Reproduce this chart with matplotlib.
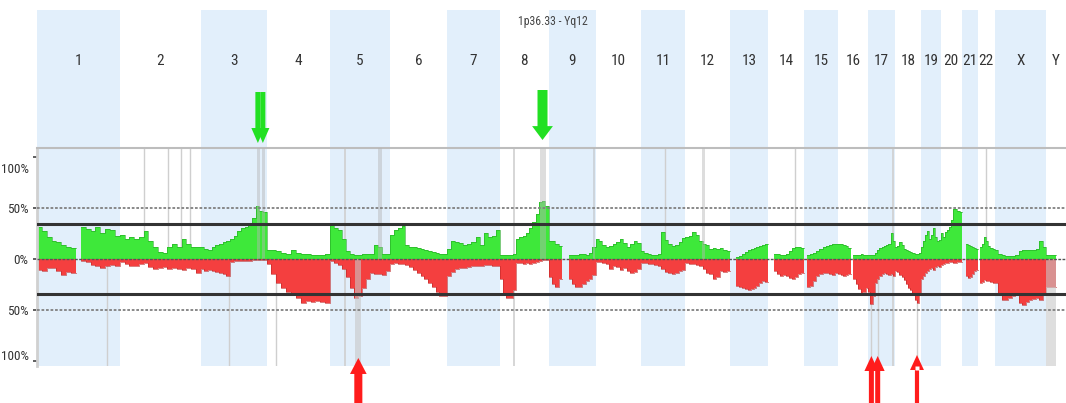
import numpy as np
import matplotlib
matplotlib.use("Agg")
import matplotlib.pyplot as plt
from matplotlib.transforms import blended_transform_factory, IdentityTransform, ScaledTranslation

nan = np.nan

# ---------------------------------------------------------------- data
CHROMS = ["1", "2", "3", "4", "5", "6", "7", "8", "9", "10", "11", "12",
          "13", "14", "15", "16", "17", "18", "19", "20", "21", "22", "X", "Y"]
CHROM_MB = [249.3, 243.2, 198.0, 191.2, 180.9, 171.1, 159.1, 146.4, 141.2, 135.5,
            135.0, 133.9, 115.2, 107.3, 102.5, 90.4, 81.2, 78.1, 59.1, 63.0,
            48.1, 51.3, 155.3, 59.4]

# frequency of gains (%) in equal-width bins along each chromosome
GAIN = [
    [31, 27, 22, 18, 17, 14, 12, 11, nan, 31, 29, 27, 31, 25, 29, 28, 23],
    [24, 20, 22, 20, 22, 27, 18, 12, 7, 6, 12, 15, 12, 20, 15, 12, 12],
    [12, 10, 9, 12, 14, 15, 17, 18, 20, 23, 27, 30, 31, 35, 40, 52, 47, 46],
    [9, 9, 8, 6, 5, 9, 6, 5, 5, 4, 4, 4, 5],
    [33, 30, 28, 20, 8, 5, 4, 4, 5, 5, 5, 14, 12, 5, 5],
    [24, 28, 30, 32, 14, 12, 12, 11, 10, 9, 8, 7, 6, 5, 5],
    [10, 18, 17, 16, 14, 15, 17, 22, 14, 25, 22, 23, 28],
    [4, 4, 4, 4, 5, 20, 22, 23, 25, 30, 36, 44, 56, 57, 52],
    [18, 18, 15, 13, nan, nan, 4, 4, 4, 5, 5, 4, 6, 12],
    [20, 18, 14, 12, 13, 15, 17, 20, 16, 12, 15, 18, 16],
    [8, 6, 5, 4, 4, 5, 26, 19, 15, 13, 14, 17, 21],
    [22, 23, 26, 24, 18, 15, 14, 10, 11, 10, 11, 9, 8],
    [nan, nan, 2, 3, 5, 7, 9, 10, 11, 12, 13, 14, 15],
    [nan, nan, 5, 5, 4, 4, 5, 8, 11, 12, 12, 11],
    [nan, 4, 5, 6, 8, 10, 12, 13, 14, 15, 15],
    [15, 15, 14, 13, 11, nan, 4, 4, 4, 5, 4, 4],
    [4, 4, 4, 6, 9, 11, 12, 13, 14, 15, 25, 18],
    [12, 13, 17, 14, 10, 9, 8, 7, 6, 5, 5, 6],
    [12, 18, 24, 27, 20, 24, 30, 22, 18, 19],
    [25, 22, 26, 28, 31, 38, 49, 49, 47, 46],
    [nan, nan, 15, 14, 13, 12, 11, 10],
    [nan, 12, 15, 22, 18, 13, 11, 10],
    [9, 5, 4, 3, 3, 3, 4, 8, 9, 9, 9, 9, 10, 18, 12],
    [4, 4, 4, nan, nan, nan],
]

# frequency of losses (%) in the same bins
LOSS = [
    [11, 12, 9, 9, 12, 16, 13, 14, nan, 2, 3, 6, 7, 9, 7, 6, 7],
    [3, 5, 7, 7, 5, 4, 8, 10, 9, 8, 10, 9, 10, 11, 9, 10, 14],
    [10, 12, 11, 12, 13, 14, 15, 17, 3, 2, 2, 2, 2, 2, 1, 1, 1, 1],
    [5, 15, 24, 28, 32, 34, 38, 43, 41, 42, 41, 42, 43],
    [2, 4, 6, 10, 18, 28, 38, 36, 28, 20, 14, 15, 15, 16, 12],
    [5, 4, 5, 5, 6, 8, 11, 14, 17, 20, 24, 27, 32, 36, 36],
    [17, 13, 10, 9, 9, 8, 7, 7, 7, 6, 6, 7, 7],
    [20, 33, 38, 38, 30, 4, 4, 5, 4, 5, 4, 3, 2, 1, 1],
    [18, 25, 27, 20, nan, nan, 20, 25, 27, 27, 25, 22, 20, 16],
    [3, 3, 4, 5, 10, 7, 8, 11, 9, 12, 14, 13, 10],
    [4, 4, 5, 5, 6, 7, 10, 13, 14, 15, 14, 12, 11],
    [4, 5, 5, 6, 7, 10, 14, 15, 20, 18, 12, 13, 12],
    [nan, nan, 26, 27, 28, 29, 30, 29, 28, 26, 24, 22, 23],
    [nan, nan, 12, 15, 17, 16, 17, 19, 20, 18, 15, 14],
    [nan, 27, 26, 22, 17, 15, 14, 14, 15, 16, 14],
    [15, 16, 17, 16, 15, nan, 20, 25, 29, 33, 32, 28],
    [32, 44, 36, 24, 20, 17, 15, 14, 15, 16, 15, 17],
    [12, 13, 16, 18, 21, 25, 28, 30, 33, 40, 43, 33],
    [20, 17, 14, 12, 10, 9, 11, 8, 7, 8],
    [6, 5, 4, 4, 3, 3, 4, 4, 3, 3],
    [nan, nan, 17, 19, 18, 15, 12, 11],
    [nan, 24, 23, 21, 22, 22, 23, 24],
    [24, 33, 40, 40, 38, 36, 35, 43, 45, 42, 40, 39, 38, 40, 35],
    [27, 27, 27, nan, nan, nan],
]

Y_TICKS = [100, 50, 0, -50, -100]
Y_TICK_LABELS = ["100%", "50%", "0%", "50%", "100%"]
THRESHOLD = 34          # significance threshold (%)
TITLE = "1p36.33 - Yq12"

# marked loci (chromosome, Mb)
GAIN_LINES = [("2", 72), ("2", 144), ("2", 183), ("2", 210), ("11", 72), ("14", 80), ("22", 25)]
LOSS_LINES = [("1", 210), ("3", 86), ("4", 30), ("17", 10), ("17", 29), ("18", 66)]
FULL_LINES = [("5", 45), ("8", 42), ("17", 75)]
GAIN_BANDS = [("3", 168, 178), ("3", 183, 193), ("5", 145, 157), ("8", 119, 137),
              ("9", 132, 141), ("12", 51, 60)]
LOSS_BANDS = [("5", 75, 94), ("Y", 0, 30)]
GAIN_ARROWS = [("3", 172), ("3", 187), ("8", 128)]
LOSS_ARROWS = [("5", 85), ("17", 10), ("17", 29), ("18", 66)]

# ---------------------------------------------------------------- helpers
offsets = np.concatenate([[0.0], np.cumsum(CHROM_MB)])
GENOME = offsets[-1]


def gpos(ch, mb):
    return offsets[CHROMS.index(ch)] + mb


W, H = 1066, 403
plt.rcParams["font.family"] = ["Roboto Condensed", "Liberation Sans Narrow", "Roboto", "DejaVu Sans"]

GREEN = "#3ee83a"
RED = "#f43f3f"
BAND_BLUE = "#e2effb"
TXT = "#333333"


def box(x0, y0, x1, y1):
    """axes rectangle from pixel corners (origin top-left)"""
    return [x0 / W, 1 - y1 / H, (x1 - x0) / W, (y1 - y0) / H]


fig = plt.figure(figsize=(W / 100, H / 100), dpi=100)

# ---------------------------------------------------------------- chromosome bands
band_ax = fig.add_axes(box(37, 10, 1066, 366))
band_ax.set_xlim(0, GENOME)
band_ax.set_ylim(0, 1)
band_ax.axis("off")
for i in range(0, len(CHROMS), 2):
    band_ax.axvspan(offsets[i], offsets[i + 1], color=BAND_BLUE, lw=0)
for i, name in enumerate(CHROMS):
    band_ax.text((offsets[i] + offsets[i + 1]) / 2, 0.857, name, ha="center", va="center",
                 fontsize=11, color=TXT)
fig.text(553 / W, 1 - 22 / H, TITLE, ha="center", va="center", fontsize=8.5, color="#444444")

# ---------------------------------------------------------------- frequency plot
ax = fig.add_axes(box(37, 148, 1066, 366))
ax.patch.set_alpha(0)
ax.set_xlim(0, GENOME)
YTOP, YBOT = 108.8, -104.9
ax.set_ylim(YBOT, YTOP)

xs, gs, ls = [], [], []
for i, L in enumerate(CHROM_MB):
    g = GAIN[i]
    l = LOSS[i]
    edges = offsets[i] + np.linspace(0, L, len(g) + 1)
    for j in range(len(g)):
        xs += [edges[j], edges[j + 1]]
        gs += [g[j], g[j]]
        ls += [-l[j], -l[j]]
xs = np.array(xs)
gs = np.array(gs, dtype=float)
ls = np.array(ls, dtype=float)

# marker lines behind the profile
for ch, mb in GAIN_LINES:
    ax.vlines(gpos(ch, mb), 0, YTOP, color="#cfcfcf", lw=1, zorder=1)
for ch, mb in LOSS_LINES:
    ax.vlines(gpos(ch, mb), YBOT, 0, color="#cfcfcf", lw=1, zorder=1)
for ch, mb in FULL_LINES:
    ax.vlines(gpos(ch, mb), YBOT, YTOP, color="#cfcfcf", lw=1.2, zorder=1)

ax.fill_between(xs, 0, gs, color=GREEN, lw=0, zorder=2)
ax.fill_between(xs, 0, ls, color=RED, lw=0, zorder=2)
ax.plot(xs, gs, color="#25a825", lw=0.6, alpha=0.7, zorder=2.5)
ax.plot(xs, ls, color="#c02828", lw=0.6, alpha=0.7, zorder=2.5)

# highlighted regions over the profile
for ch, a, b in GAIN_BANDS:
    ax.fill_between([gpos(ch, a), gpos(ch, b)], 0, YTOP, color="#b5b5b5", alpha=0.45, lw=0, zorder=3)
for ch, a, b in LOSS_BANDS:
    ax.fill_between([gpos(ch, a), gpos(ch, b)], YBOT, 0, color="#c8c8c8", alpha=0.6, lw=0, zorder=3)

# reference lines
ax.axhline(0, color="#555555", lw=1.0, ls=(0, (2, 1)), zorder=4)
for v in (50, -50):
    ax.axhline(v, color="#808080", lw=1.3, ls=(0, (1.5, 1)), zorder=4)
for v in (THRESHOLD, -THRESHOLD):
    ax.axhline(v, color="#333333", lw=2.2, zorder=4)

ax.set_xticks([])
ax.set_yticks(Y_TICKS)
ax.set_yticklabels(Y_TICK_LABELS)
ax.tick_params(axis="y", length=3, width=1.2, color="#444444", labelsize=9.5,
               labelcolor=TXT, pad=3)
ylabels = ax.get_yticklabels()
ylabels[0].set_transform(ylabels[0].get_transform() + ScaledTranslation(0, -0.11, fig.dpi_scale_trans))
ylabels[-1].set_transform(ylabels[-1].get_transform() + ScaledTranslation(0, 0.06, fig.dpi_scale_trans))

for side in ("right", "bottom"):
    ax.spines[side].set_visible(False)
ax.spines["top"].set_color("#bdbdbd")
ax.spines["top"].set_linewidth(1.5)
ax.spines["left"].set_color("#d0d0d0")
ax.spines["left"].set_linewidth(2)

# ---------------------------------------------------------------- arrows
def arrow(ch, mb, y_tail, y_tip, color, shaft, head_w, head_len):
    x = gpos(ch, mb)
    ax.annotate("", xy=(x, H - y_tip), xycoords=("data", "figure pixels"),
                xytext=(x, H - y_tail), textcoords=("data", "figure pixels"),
                arrowprops=dict(arrowstyle=f"simple,head_length={head_len},head_width={head_w},tail_width={shaft}",
                                mutation_scale=1, shrinkA=0, shrinkB=0, color=color, lw=0),
                annotation_clip=False)


ARROW_GREEN = "#22e022"
ARROW_RED = "#ff1c1c"
arrow(*GAIN_ARROWS[0], 92, 143, ARROW_GREEN, 3.6, 9.4, 10.8)
arrow(*GAIN_ARROWS[1], 92, 143, ARROW_GREEN, 3.6, 9.4, 10.8)
arrow(*GAIN_ARROWS[2], 90, 140, ARROW_GREEN, 7.2, 15, 10)
arrow(*LOSS_ARROWS[0], 410, 358, ARROW_RED, 5.8, 12, 11.5)
arrow(*LOSS_ARROWS[1], 410, 356, ARROW_RED, 3.6, 10, 10.8)
arrow(*LOSS_ARROWS[2], 410, 356, ARROW_RED, 3.6, 10, 10.8)
arrow(*LOSS_ARROWS[3], 410, 355, ARROW_RED, 3.0, 10, 10.8)
pix = blended_transform_factory(ax.transData, IdentityTransform())
ax.plot([gpos(*LOSS_ARROWS[3])], [H - 368], marker="s", ms=2.2, color="white",
        mec="none", transform=pix, clip_on=False, zorder=6)

fig.savefig("out.png", dpi=100)
